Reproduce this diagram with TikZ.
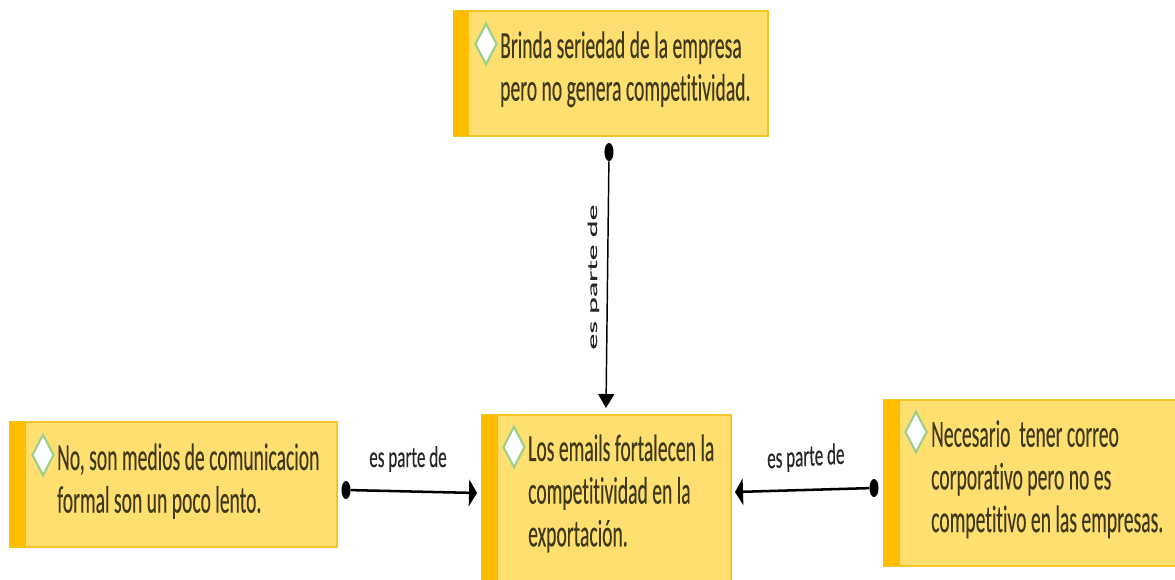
\documentclass[tikz,border=0pt]{standalone}
\usepackage{fontspec}
\setmainfont[FakeBold=0.35,RawFeature={-liga}]{Carlito}
\usetikzlibrary{arrows.meta,shapes.geometric}
\definecolor{boxfill}{HTML}{FEDF6F}
\definecolor{boxline}{HTML}{F7C428}
\definecolor{boxbar}{HTML}{FFBC00}
\definecolor{diaedge}{HTML}{9CCF8A}
\definecolor{inktext}{HTML}{403A1C}
\tikzset{
  x=0.75pt,y=-0.75pt,
  box/.style={draw=boxline,line width=1.5pt,fill=boxfill,rectangle,anchor=north west,inner sep=0pt,outer sep=0pt},
  bar/.style={fill=boxbar,rectangle,anchor=north west,inner sep=0pt,outer sep=0pt,minimum width=12pt},
  dia/.style={diamond,draw=diaedge,line width=1.6pt,fill=white,inner sep=0pt,minimum width=16.5pt,minimum height=31pt,aspect=0.5},
  txt/.style={text=inktext,align=left,anchor=north west,inner sep=0pt,transform shape,xscale=0.64,yscale=1.25,
    font=\fontsize{23}{25.6}\selectfont},
  lab/.style={text=black!85,inner sep=0pt,anchor=base,transform shape,xscale=0.71,yscale=1.25,font=\fontsize{18}{20}\selectfont},
  dot/.style={ellipse,fill=black,inner sep=0pt,minimum width=6.8pt,minimum height=13.5pt},
  link/.style={draw=black,line width=1.9pt,-{Triangle[length=6pt,width=20pt]}},
}
\begin{document}
\begin{tikzpicture}
\useasboundingbox (0,0) rectangle (1175,579);
\clip (0,0) rectangle (1175,579);
\fill[white] (0,0) rectangle (1175,579);
% boxes
\node[box,minimum width=235.5pt,minimum height=93.75pt] (top) at (454,11) {};
\node[bar,minimum height=93.75pt] (topbar) at (453,11) {};
\node[box,minimum width=245.25pt,minimum height=93.75pt] (left) at (10,422) {};
\node[bar,minimum height=93.75pt] (leftbar) at (9.5,422) {};
\node[box,minimum width=186.75pt,minimum height=135pt] (mid) at (482,415) {};
\node[bar,minimum height=135pt] (midbar) at (481.5,415) {};
\node[box,minimum width=224.25pt,minimum height=124.5pt] (right) at (884,400) {};
\node[bar,minimum height=124.5pt] (rightbar) at (883.5,400) {};
% diamonds
\node[dia] (d1) at (486,44) {};
\node[dia] (d2) at (43,455) {};
\node[dia] (d3) at (514,447) {};
\node[dia] (d4) at (916,432) {};
% texts
\node[txt] (t1) at (500,31) {Brinda seriedad de la empresa\\pero no genera competitividad.};
\node[txt] (t2) at (57,443) {No, son medios de comunicacion\\formal son un poco lento.};
\node[txt] (t3) at (528,434) {Los emails fortalecen la\\competitividad en la\\exportación.};
\node[txt] (t4) at (931,420) {Necesario\ \ tener correo\\corporativo pero no es\\competitivo en las empresas.};
% connectors
\node[dot] (s1) at (609,152) {};
\node[dot] (s2) at (346,490) {};
\node[dot] (s3) at (874,488) {};
\coordinate (e1) at (606,408);
\coordinate (e2) at (477,493);
\coordinate (e3) at (735,492);
\draw[draw=black,line width=1.1pt,-{Triangle[length=10.5pt,width=12pt]}] (s1) -- (e1);
\draw[link] (s2) -- (e2);
\draw[link] (s3) -- (e3);
% labels
\node[lab] (l2) at (408,467) {es parte de};
\node[lab,rotate=2] (l3) at (806,466) {es parte de};
\node[lab,rotate=90,xscale=1.065,yscale=0.8] (l1) at (597,277) {es parte de};
\end{tikzpicture}
\end{document}
